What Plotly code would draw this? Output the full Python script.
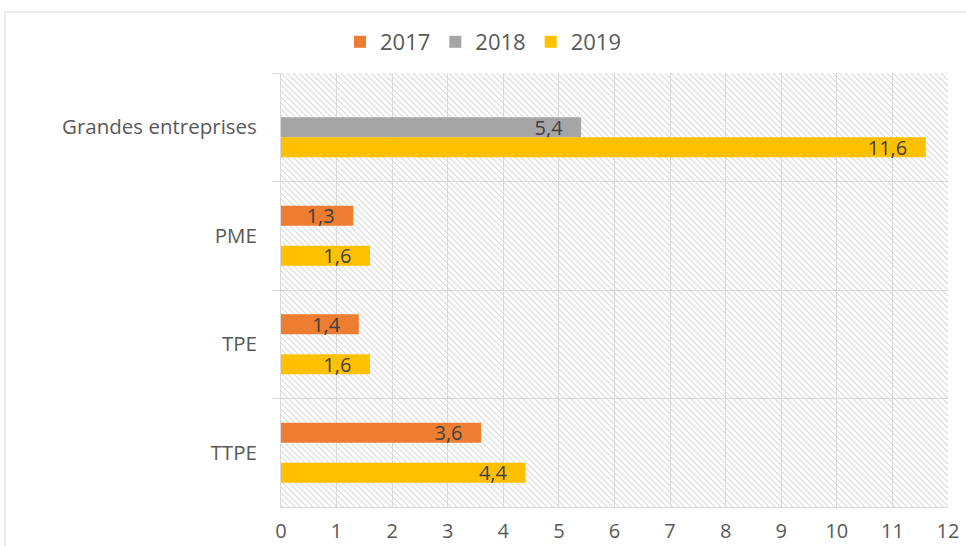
import base64
import plotly.graph_objects as go

# Company size categories, listed top to bottom
categories = ["Grandes entreprises", "PME", "TPE", "TTPE"]
years = ["2017", "2018", "2019"]
values_2017 = [None, 1.3, 1.4, 3.6]
values_2018 = [5.4, None, None, None]
values_2019 = [11.6, 1.6, 1.6, 4.4]
series_values = [values_2017, values_2018, values_2019]
colors = ["#ED7D31", "#A5A5A5", "#FFC000"]
x_ticks = list(range(0, 13))

FONT = "Open Sans, Lato, DejaVu Sans, sans-serif"
W, H = 966, 546
M_L, M_R, M_T, M_B = 281, 18, 73, 39
PW, PH = W - M_L - M_R, H - M_T - M_B

fig = go.Figure()
for name, vals, col in zip(years, series_values, colors):
    fig.add_trace(go.Bar(
        name=name,
        y=categories,
        x=vals,
        orientation="h",
        marker=dict(color=col, line=dict(width=0)),
        texttemplate="%{x:.1f}\u00a0\u00a0\u00a0",
        textposition="inside",
        insidetextanchor="end",
        textangle=0,
        textfont=dict(family=FONT, size=20, color="#404040"),
        constraintext="none",
        cliponaxis=False,
        hoverinfo="skip",
    ))

# Diagonal hatching used as the plot-area background
svg = (
    f'<svg xmlns="http://www.w3.org/2000/svg" width="{PW}" height="{PH}">'
    '<defs><pattern id="h" patternUnits="userSpaceOnUse" width="6" height="6">'
    '<path d="M-1,-1 L7,7 M-1,5 L1,7 M5,-1 L7,1" stroke="#dadada" stroke-width="1.2"/>'
    '</pattern></defs>'
    f'<rect width="{PW}" height="{PH}" fill="white"/>'
    f'<rect width="{PW}" height="{PH}" fill="url(#h)"/>'
    '</svg>'
)
src = "data:image/svg+xml;base64," + base64.b64encode(svg.encode()).decode()

fig.update_layout(
    width=W, height=H,
    margin=dict(l=M_L, r=M_R, t=M_T, b=M_B, autoexpand=False),
    paper_bgcolor="white",
    plot_bgcolor="white",
    barmode="group",
    bargap=0.447,
    bargroupgap=0,
    separators=", ",
    font=dict(family=FONT, color="#595959"),
    legend=dict(
        orientation="h",
        xref="container", yref="container",
        x=0.5, xanchor="center",
        y=1 - 42 / H, yanchor="middle",
        font=dict(family=FONT, size=22, color="#595959"),
        traceorder="normal",
        itemwidth=30,
    ),
    images=[dict(
        source=src, xref="paper", yref="paper",
        x=0, y=1, sizex=1, sizey=1,
        xanchor="left", yanchor="top",
        sizing="stretch", layer="below",
    )],
    shapes=[dict(
        type="rect", xref="paper", yref="paper",
        x0=(5 - M_L) / PW, x1=(W + 10 - M_L) / PW,
        y0=-(H + 10 - M_T - PH) / PH, y1=(PH + M_T - 12) / PH,
        line=dict(color="#D9D9D9", width=1),
        fillcolor="rgba(0,0,0,0)",
        layer="below",
    )],
)

fig.update_xaxes(
    range=[0, 12],
    tickvals=x_ticks,
    ticktext=[str(t) for t in x_ticks],
    showgrid=True, gridcolor="#D9D9D9", gridwidth=1,
    zeroline=False,
    showline=True, linecolor="#D9D9D9", linewidth=1,
    ticks="", ticklabelstandoff=6,
    tickfont=dict(family=FONT, size=20, color="#595959"),
    automargin=False,
    fixedrange=True,
)
fig.update_yaxes(
    type="category",
    categoryorder="array", categoryarray=categories,
    autorange="reversed",
    tickson="boundaries",
    ticks="outside", ticklen=8, tickcolor="#D9D9D9",
    showgrid=True, gridcolor="#D9D9D9", gridwidth=1,
    showline=True, linecolor="#D9D9D9", linewidth=1,
    ticklabelstandoff=19,
    tickfont=dict(family=FONT, size=20.5, color="#595959"),
    automargin=False,
    fixedrange=True,
)

fig.write_html("out.html")
